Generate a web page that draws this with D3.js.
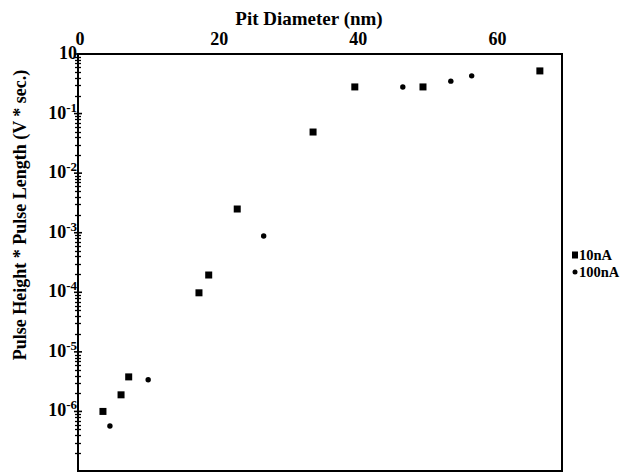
<!DOCTYPE html>
<html>
<head>
<meta charset="utf-8">
<script src="https://cdn.jsdelivr.net/npm/d3@7"></script>
<style>
  body { margin: 0; background: #fff; }
  text { font-family: "Liberation Serif", "Times New Roman", serif; font-weight: bold; fill: #000; }
</style>
</head>
<body>
<div id="chart"></div>
<script>
// data
var diam10 = [3.3, 5.9, 7.0, 17.1, 18.5, 22.6, 33.5, 39.5, 49.3, 66.1];
var val10 = [1.0e-6, 1.9e-6, 3.8e-6, 9.8e-5, 1.95e-4, 2.5e-3, 0.049, 0.28, 0.28, 0.52];
var diam100 = [4.3, 9.8, 26.4, 46.4, 53.3, 56.3];
var val100 = [5.7e-7, 3.4e-6, 8.8e-4, 0.28, 0.35, 0.43];
var xTicks = [0, 20, 40, 60];
var yExps = [0, -1, -2, -3, -4, -5, -6];
var seriesNames = ["10nA", "100nA"];

var W = 621, H = 472;
var frame = {left: 78, top: 54, right: 562, bottom: 471};

var x = d3.scaleLinear().domain([0, 70]).range([80, 567]);
var y = d3.scaleLog().domain([1e-7, 1]).range([frame.bottom, frame.top]);

var svg = d3.select("#chart").append("svg")
  .attr("width", W).attr("height", H);

svg.append("rect").attr("width", W).attr("height", H).attr("fill", "#fff");

// frame
svg.append("rect")
  .attr("x", frame.left).attr("y", frame.top)
  .attr("width", frame.right - frame.left)
  .attr("height", frame.bottom - frame.top)
  .attr("fill", "none").attr("stroke", "#000").attr("stroke-width", 2);

// left axis ticks (cross ticks, major + minor)
var minor = [];
for (var e = -7; e < 0; e++) {
  for (var m = 2; m <= 9; m++) minor.push(m * Math.pow(10, e));
}
var tickG = svg.append("g").attr("class", "yticks");
tickG.selectAll("line.minor").data(minor).enter().append("line")
  .attr("class", "minor")
  .attr("x1", frame.left - 3).attr("x2", frame.left + 3)
  .attr("y1", function(d) { return Math.round(y(d)) + 0.5; })
  .attr("y2", function(d) { return Math.round(y(d)) + 0.5; })
  .attr("stroke", "#000").attr("stroke-width", 1.3);
tickG.selectAll("line.major").data(yExps).enter().append("line")
  .attr("class", "major")
  .attr("x1", frame.left - 4).attr("x2", frame.left + 4)
  .attr("y1", function(d) { return y(Math.pow(10, d)); })
  .attr("y2", function(d) { return y(Math.pow(10, d)); })
  .attr("stroke", "#000").attr("stroke-width", 1.6);

// y tick labels
var ylab = svg.append("g").selectAll("text").data(yExps).enter().append("text")
  .attr("x", frame.left - 1)
  .attr("y", function(d) { return y(Math.pow(10, d)) + 5; })
  .attr("text-anchor", "end")
  .style("font-size", "18px");
ylab.append("tspan").text("10");
ylab.filter(function(d) { return d !== 0; })
  .append("tspan").attr("dy", -7).style("font-size", "13px")
  .text(function(d) { return String(d); });

// top axis labels
svg.append("g").selectAll("text").data(xTicks).enter().append("text")
  .attr("x", function(d) { return x(d); })
  .attr("y", 45)
  .attr("text-anchor", "middle")
  .style("font-size", "18px")
  .text(function(d) { return d; });

// titles
svg.append("text")
  .attr("x", 309).attr("y", 25)
  .attr("text-anchor", "middle")
  .style("font-size", "19px")
  .text("Pit Diameter (nm)");

svg.append("text")
  .attr("transform", "translate(26,215) rotate(-90)")
  .attr("text-anchor", "middle")
  .style("font-size", "18px")
  .text("Pulse Height * Pulse Length (V * sec.)");

// points
svg.append("g").selectAll("rect").data(d3.zip(diam10, val10)).enter().append("rect")
  .attr("x", function(d) { return x(d[0]) - 3.5; })
  .attr("y", function(d) { return y(d[1]) - 3.5; })
  .attr("width", 7).attr("height", 7)
  .attr("fill", "#000");

svg.append("g").selectAll("circle").data(d3.zip(diam100, val100)).enter().append("circle")
  .attr("cx", function(d) { return x(d[0]); })
  .attr("cy", function(d) { return y(d[1]); })
  .attr("r", 2.7)
  .attr("fill", "#000");

// legend
var leg = svg.append("g").attr("transform", "translate(575,255)");
leg.append("rect").attr("x", -3).attr("y", -3.5).attr("width", 6).attr("height", 7).attr("fill", "#000");
leg.append("circle").attr("cx", 0).attr("cy", 17).attr("r", 2.5).attr("fill", "#000");
leg.selectAll("text").data(seriesNames).enter().append("text")
  .attr("x", 4)
  .attr("y", function(d, i) { return i * 17 + 5; })
  .style("font-size", "14.5px")
  .text(function(d) { return d; });
</script>
</body>
</html>
